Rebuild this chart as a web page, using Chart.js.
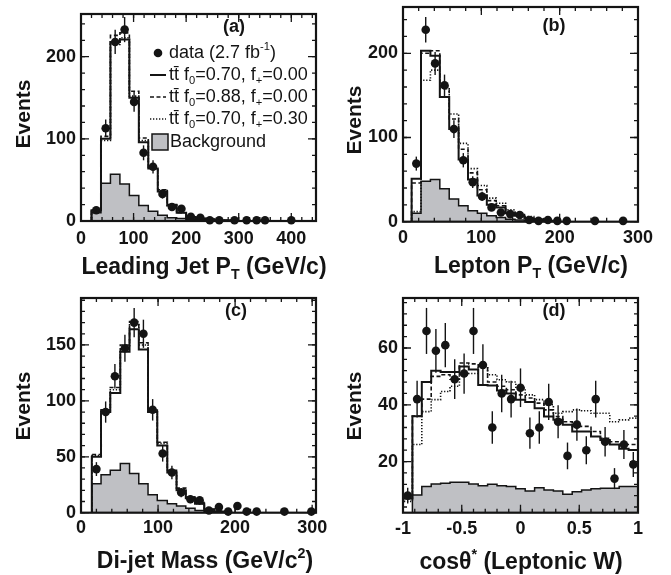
<!DOCTYPE html>
<html><head><meta charset="utf-8">
<script src="https://cdn.jsdelivr.net/npm/chart.js@4.4.0/dist/chart.umd.min.js"></script>
<style>
html,body{margin:0;padding:0;background:#fff;}
#wrap{position:relative;width:671px;height:575px;overflow:hidden;background:#fff;}
#wrap canvas{position:absolute;left:0;top:0;}
</style></head><body><div id="wrap">
<canvas id="ca" width="671" height="575"></canvas><canvas id="cb" width="671" height="575"></canvas><canvas id="cc" width="671" height="575"></canvas><canvas id="cd" width="671" height="575"></canvas>
</div>
<script>
// ---------- (a) Leading jet PT ----------
const aEdges = [20,38,56,74,92,110,128,146,164,182,200,218,236,254,272,290];
const aSolid = [13,100,218,221,150,96,64,36,19,10,5,3,2,1,1];
const aDash  = [13,103,226,229,158,101,66,38,20,10,5,3,2,1,1];
const aDot   = [12,98,215,223,152,98,64,37,19,10,5,3,2,1,1];
const aBkg   = [10,46,57,45,31,19,12,7,4,3,2,1,1,0,0];
const aDataX = [29,47,65,83,101,119,137,155,173,191,209,227,245,263,292,315,334,350,400];
const aDataY = [13,113,218,233,145,83,66,33,17,15,5,4,1,1,1,1,1,1,1];
const aDataE = [3.6,10.6,14.8,15.3,12,9.1,8.1,5.7,4.1,3.9,2.2,2,1,1,1,1,1,1,1];
const aXTicks = [0,100,200,300,400];
const aYTicks = [0,100,200];

// ---------- (b) Lepton PT ----------
const bEdges = [11,23,35,47,59,71,83,95,107,119,131,143,155,167,179,191];
const bSolid = [51,203,197,148,110,74,50,31,20,17,10,7,4,2,1];
const bDash  = [46,200,203,158,122,86,58,38,25,19,12,8,5,3,1];
const bDot   = [12,168,180,160,128,93,63,43,28,22,14,10,6,3,1];
const bBkg   = [10,48,50,39,27,19,13,10,7,5,3,2,1,1,0];
const bDataX = [17,29,41,53,65,77,89,101,113,125,137,149,161,173,185,197,209,245,281];
const bDataY = [69,228,188,162,110,73,47,30,17,11,9,8,2,1,2,1,1,1,1];
const bDataE = [8.3,15.1,13.7,12.7,10.5,8.5,6.9,5.5,4.1,3.3,3,2.8,1.4,1,1.4,1,1,1,1];
const bXTicks = [0,100,200,300];
const bYTicks = [0,100,200];

// ---------- (c) Di-jet mass ----------
const cEdges = [14,26,38,51,63,75,87,99,112,124,136,148,160,173,185];
const cSolid = [50,90,107,144,164,146,90,60,36,20,13,8,3,1];
const cDash  = [52,92,112,150,171,152,93,63,38,22,14,9,3,1];
const cDot   = [51,91,110,148,168,150,92,62,37,21,14,8,3,1];
const cBkg   = [26,34,38,44,35,26,16,11,8,6,4,2,1,0];
const cDataX = [20,32,44,57,69,81,93,106,118,130,142,154,166,179,191,203,215,228,264,299];
const cDataY = [39,90,122,147,170,160,92,53,36,18,12,11,2,5,1,6,1,1,1,1];
const cDataE = [6.2,9.5,11,12.1,13,12.6,9.6,7.3,6,4.2,3.5,3.3,1.4,2.2,1,2.4,1,1,1,1];
const cXTicks = [0,100,200,300];
const cYTicks = [0,50,100,150];

// ---------- (d) cos theta* ----------
const dEdges = [-1,-0.92,-0.84,-0.76,-0.68,-0.6,-0.52,-0.44,-0.36,-0.28,-0.2,-0.12,-0.04,0.04,0.12,0.2,0.28,0.36,0.44,0.52,0.6,0.68,0.76,0.84,0.92,1];
const dSolid = [7,36,48,52,51.5,51.5,53.5,52.4,47,46.8,45,44,41.8,41,38.8,35.9,34.7,33,30.6,30.6,28.8,27.6,26,24.5,24.1];
const dDash  = [7,36,42,50,50.6,49,54.7,54.4,53,48,46.5,45.3,43.5,42.4,40.6,38.2,35.9,34,32.4,32.4,30.6,28.2,27,26,26];
const dDot   = [6,26,37.6,41.8,44.7,46.5,50.6,51,53.5,50.6,48.8,48,45.9,43.5,41.8,40,37,37.6,38.2,37.9,37,37,34,34.7,35.3];
const dBkg   = [2,8.2,11.2,12.1,12.4,12.7,12.7,12.1,11.5,12,11.5,11.2,10.4,9.6,10.8,10,9.6,8.5,9.4,10,10.4,10.6,10.6,11.2,11.2];
const dDataX = [-0.96,-0.88,-0.8,-0.72,-0.64,-0.56,-0.48,-0.4,-0.32,-0.24,-0.16,-0.08,0,0.08,0.16,0.24,0.32,0.4,0.48,0.56,0.64,0.72,0.8,0.88,0.96];
const dDataY = [8,42,66,59,61,49,51,66,54,32,44,42,46,30,32,41,34,22,33,24,42,27,14,26,19];
const dDataE = [2.8,6.5,8.1,7.7,7.8,7,7.1,8.1,7.3,5.7,6.6,6.5,6.8,5.5,5.7,6.4,5.8,4.7,5.7,4.9,6.5,5.2,3.7,5.1,4.4];
const dXTicks = [-1,-0.5,0,0.5,1];
const dYTicks = [20,40,60];

const FONT = "'Liberation Sans', Arial, Helvetica, sans-serif";
const INK = '#141414';
const GRAY = '#bfc0c4';
const PR = 4.3;

function steps(edges, vals){
  const pts = [{x:edges[0], y:0}];
  for (let i=0;i<vals.length;i++) pts.push({x:edges[i], y:vals[i]});
  pts.push({x:edges[vals.length], y:vals[vals.length-1]});
  pts.push({x:edges[vals.length], y:0});
  return pts;
}
function pts(xs, ys){ return xs.map((x,i)=>({x:x, y:ys[i]})); }

function fnt(size, weight){ return (weight||'normal')+' '+size+'px '+FONT; }
function rich(ctx, segs, x, y, size, weight, align){
  const small = size*0.62;
  let w = 0;
  for (const s of segs){ ctx.font = fnt((s.sub||s.sup)?small:size, weight); w += ctx.measureText(s.t).width; }
  let cx = align==='center' ? x - w/2 : x;
  ctx.textBaseline = 'middle'; ctx.textAlign = 'left';
  for (const s of segs){
    const fs = (s.sub||s.sup)?small:size;
    ctx.font = fnt(fs, weight);
    const dy = s.sub ? size*0.32 : (s.sup ? -size*0.36 : 0);
    ctx.fillText(s.t, cx, y+dy);
    cx += ctx.measureText(s.t).width;
  }
}

function makePanel(id, p){
  const area = p.area; // left, top, right, bottom
  const XH = 40;
  const plugin = {
    id: 'panel_'+id,
    afterDatasetsDraw(chart){
      const ctx = chart.ctx, xs = chart.scales.x, ys = chart.scales.y;
      ctx.save();
      ctx.strokeStyle = INK; ctx.lineWidth = 1.4;
      p.dataX.forEach((xv,i)=>{
        const px = xs.getPixelForValue(xv);
        const y1 = ys.getPixelForValue(p.dataY[i]-p.dataE[i]);
        const y2 = ys.getPixelForValue(p.dataY[i]+p.dataE[i]);
        ctx.beginPath();
        ctx.moveTo(px, Math.min(y1, chart.chartArea.bottom));
        ctx.lineTo(px, Math.max(y2, chart.chartArea.top));
        ctx.stroke();
      });
      ctx.restore();
    },
    afterDraw(chart){
      const ctx = chart.ctx, xs = chart.scales.x, ys = chart.scales.y;
      const ca = chart.chartArea;
      ctx.save();
      ctx.strokeStyle = INK;
      ctx.lineWidth = 1.3;
      const drawX = (v, len)=>{
        const px = xs.getPixelForValue(v);
        ctx.beginPath(); ctx.moveTo(px, ca.bottom); ctx.lineTo(px, ca.bottom-len);
        ctx.moveTo(px, ca.top); ctx.lineTo(px, ca.top+len); ctx.stroke();
      };
      const drawY = (v, len)=>{
        const py = ys.getPixelForValue(v);
        ctx.beginPath(); ctx.moveTo(ca.left, py); ctx.lineTo(ca.left+len, py);
        ctx.moveTo(ca.right, py); ctx.lineTo(ca.right-len, py); ctx.stroke();
      };
      const n0x = Math.ceil(p.xMin/p.xMinor - 1e-9), n1x = Math.floor(p.xMax/p.xMinor + 1e-9);
      for (let k=n0x;k<=n1x;k++) drawX(k*p.xMinor, 4);
      p.xTicks.forEach(v=>drawX(v, 8));
      const n0y = Math.ceil(p.yMin/p.yMinor - 1e-9), n1y = Math.floor(p.yMax/p.yMinor + 1e-9);
      for (let k=n0y;k<=n1y;k++) drawY(k*p.yMinor, 4);
      p.yTicks.forEach(v=>drawY(v, 8));
      ctx.lineWidth = 2.2;
      ctx.strokeRect(ca.left, ca.top, ca.right-ca.left, ca.bottom-ca.top);
      ctx.fillStyle = INK;
      rich(ctx, [{t:p.tag}], p.tagPos[0], p.tagPos[1], 18, 'bold', 'center');
      rich(ctx, p.xTitle, p.xTitlePos[0], p.xTitlePos[1], 23, 'bold', 'center');
      ctx.save();
      ctx.translate(p.yTitlePos[0], p.yTitlePos[1]);
      ctx.rotate(-Math.PI/2);
      rich(ctx, [{t:'Events'}], 0, 0, 21, 'bold', 'center');
      ctx.restore();
      if (p.legend) p.legend(ctx);
      ctx.restore();
    }
  };
  const lineDs = (data, dash, w, order)=>({
    type:'line', data:data, stepped:'before', borderColor:INK, borderWidth:w, borderDash:dash,
    pointRadius:0, fill:false, order:order, tension:0
  });
  new Chart(document.getElementById(id), {
    type:'line',
    data:{ datasets:[
      { type:'scatter', data:pts(p.dataX, p.dataY), pointRadius:PR, pointBackgroundColor:INK,
        pointBorderColor:INK, pointBorderWidth:0, showLine:false, order:0, clip:false },
      lineDs(steps(p.edges, p.solid), [], 2, 1),
      lineDs(steps(p.edges, p.dash), [4,2.5], 1.6, 2),
      lineDs(steps(p.edges, p.dot), [1.3,1.7], 1.6, 3),
      { type:'line', data:steps(p.edges, p.bkg), stepped:'before', borderColor:INK, borderWidth:1.5,
        backgroundColor:GRAY, fill:'origin', pointRadius:0, order:4 }
    ]},
    options:{
      responsive:false, animation:false, events:[],
      layout:{ padding:{ left:0, top:area[1], right:671-area[2], bottom:575-area[3]-XH } },
      plugins:{ legend:{display:false}, tooltip:{enabled:false} },
      scales:{
        x:{ type:'linear', position:'bottom', min:p.xMin, max:p.xMax,
            grid:{display:false, drawTicks:false}, border:{display:false},
            ticks:{ font:{family:FONT, size:18, weight:'bold'}, color:INK, padding:p.xPad,
                    maxRotation:0, autoSkip:false, callback:v=>String(v) },
            afterBuildTicks:s=>{ s.ticks = p.xTicks.map(v=>({value:v})); },
            afterFit:s=>{ s.height = XH; s.paddingLeft = 0; s.paddingRight = 0; } },
        y:{ type:'linear', position:'left', min:p.yMin, max:p.yMax,
            grid:{display:false, drawTicks:false}, border:{display:false},
            ticks:{ font:{family:FONT, size:18, weight:'bold'}, color:INK, padding:5,
                    autoSkip:false, callback:v=>String(v) },
            afterBuildTicks:s=>{ s.ticks = p.yTicks.map(v=>({value:v})); },
            afterFit:s=>{ s.width = area[0]; s.paddingTop = 0; s.paddingBottom = 0; } }
      }
    },
    plugins:[plugin]
  });
}

function legendA(ctx){
  const x0 = 150, x1 = 166, tx = 169, size = 18;
  const rows = [53, 75, 97, 119, 142];
  ctx.fillStyle = INK; ctx.strokeStyle = INK;
  ctx.beginPath(); ctx.arc(158, rows[0], PR, 0, Math.PI*2); ctx.fill();
  rich(ctx, [{t:'data (2.7 fb'},{t:'-1',sup:true},{t:')'}], tx, rows[0], size, 'normal', 'left');
  const dashes = [[], [4,2.5], [1.3,1.7]];
  const txt = [['0.70','0.00'],['0.88','0.00'],['0.70','0.30']];
  for (let i=0;i<3;i++){
    const y = rows[i+1];
    ctx.save(); ctx.lineWidth = i===0?2:1.6; ctx.setLineDash(dashes[i]);
    ctx.beginPath(); ctx.moveTo(x0, y); ctx.lineTo(x1, y); ctx.stroke(); ctx.restore();
    rich(ctx, [{t:'tt\u0304 f'},{t:'0',sub:true},{t:'='+txt[i][0]+', f'},{t:'+',sub:true},{t:'='+txt[i][1]}], tx, y, size, 'normal', 'left');
  }
  ctx.save();
  ctx.fillStyle = GRAY; ctx.fillRect(152, rows[4]-8, 16, 16);
  ctx.lineWidth = 1.5; ctx.strokeRect(152, rows[4]-8, 16, 16);
  ctx.restore();
  ctx.fillStyle = INK;
  rich(ctx, [{t:'Background'}], 170, rows[4], size, 'normal', 'left');
}

makePanel('ca', { area:[81,14,316,221], xMin:0, xMax:447, yMin:0, yMax:252, xMinor:20, yMinor:20,
  xTicks:aXTicks, yTicks:aYTicks, edges:aEdges, solid:aSolid, dash:aDash, dot:aDot, bkg:aBkg,
  dataX:aDataX, dataY:aDataY, dataE:aDataE, xPad:7,
  tag:'(a)', tagPos:[234,27], xTitle:[{t:'Leading Jet P'},{t:'T',sub:true},{t:' (GeV/c)'}],
  xTitlePos:[204,268], yTitlePos:[24,114], legend:legendA });
makePanel('cb', { area:[403,7,638,221.7], xMin:0, xMax:300, yMin:0, yMax:255, xMinor:20, yMinor:20,
  xTicks:bXTicks, yTicks:bYTicks, edges:bEdges, solid:bSolid, dash:bDash, dot:bDot, bkg:bBkg,
  dataX:bDataX, dataY:bDataY, dataE:bDataE, xPad:6,
  tag:'(b)', tagPos:[554,26], xTitle:[{t:'Lepton P'},{t:'T',sub:true},{t:' (GeV/c)'}],
  xTitlePos:[531,267], yTitlePos:[355,120] });
makePanel('cc', { area:[81,298,316,512.7], xMin:0, xMax:305, yMin:0, yMax:192, xMinor:20, yMinor:10,
  xTicks:cXTicks, yTicks:cYTicks, edges:cEdges, solid:cSolid, dash:cDash, dot:cDot, bkg:cBkg,
  dataX:cDataX, dataY:cDataY, dataE:cDataE, xPad:5,
  tag:'(c)', tagPos:[236,311], xTitle:[{t:'Di-jet Mass (GeV/c'},{t:'2',sup:true},{t:')'}],
  xTitlePos:[205,562], yTitlePos:[24,406] });
makePanel('cd', { area:[403,298,638,512.7], xMin:-1, xMax:1, yMin:2, yMax:77.6, xMinor:0.1, yMinor:4,
  xTicks:dXTicks, yTicks:dYTicks, edges:dEdges, solid:dSolid, dash:dDash, dot:dDot, bkg:dBkg,
  dataX:dDataX, dataY:dDataY, dataE:dDataE, xPad:6,
  tag:'(d)', tagPos:[554,311], xTitle:[{t:'cos\u03B8'},{t:'*',sup:true},{t:' (Leptonic W)'}],
  xTitlePos:[521,563], yTitlePos:[355,406] });
</script></body></html>
